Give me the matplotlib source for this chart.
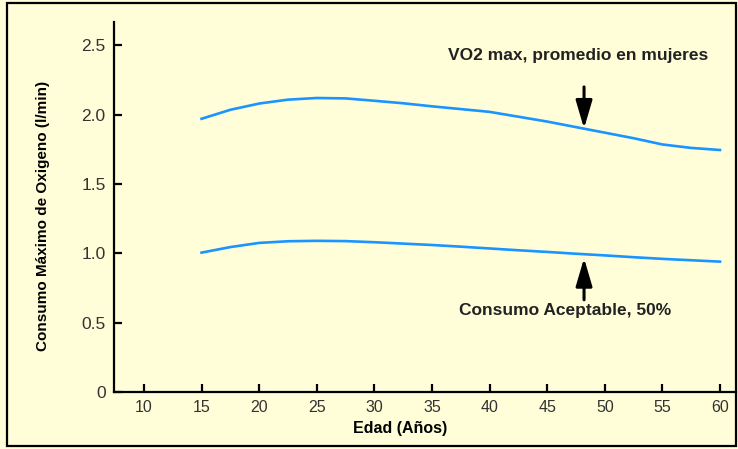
import matplotlib
matplotlib.use('Agg')
import matplotlib.pyplot as plt
from matplotlib.patches import Rectangle

# Data
edad = [15, 17.5, 20, 22.5, 25, 27.5, 30, 32.5, 35, 37.5, 40,
        42.5, 45, 47.5, 50, 52.5, 55, 57.5, 60]
vo2_max = [1.97, 2.035, 2.08, 2.108, 2.12, 2.117, 2.10, 2.082, 2.06, 2.04, 2.02,
           1.985, 1.95, 1.91, 1.87, 1.83, 1.785, 1.76, 1.745]
aceptable = [1.005, 1.045, 1.075, 1.087, 1.09, 1.088, 1.08, 1.07, 1.06, 1.048, 1.035,
             1.022, 1.01, 0.997, 0.985, 0.972, 0.96, 0.95, 0.94]

x_ticks = [10, 15, 20, 25, 30, 35, 40, 45, 50, 55, 60]
y_ticks = [0, 0.5, 1.0, 1.5, 2.0, 2.5]
y_ticklabels = ['0', '0.5', '1.0', '1.5', '2.0', '2.5']

bg = '#fffed8'
line_color = '#1a94ff'

plt.rcParams['font.family'] = ['Liberation Sans', 'DejaVu Sans']

fig = plt.figure(figsize=(7.38, 4.49), dpi=100, facecolor=bg)
ax = fig.add_axes([114 / 738, 57 / 449, (736 - 114) / 738, (392 - 22) / 449])
ax.set_facecolor(bg)

ax.plot(edad, vo2_max, color=line_color, lw=1.9)
ax.plot(edad, aceptable, color=line_color, lw=1.9)

ax.set_xlim(7.40, 61.39)
ax.set_ylim(0, 2.668)

for s in ['top', 'right']:
    ax.spines[s].set_visible(False)
for s in ['left', 'bottom']:
    ax.spines[s].set_linewidth(1.6)
    ax.spines[s].set_color('black')

ax.set_xticks(x_ticks)
ax.set_yticks(y_ticks)
ax.set_yticklabels(y_ticklabels)
ax.tick_params(direction='in', length=6, width=1.6, labelcolor='#333333', pad=6)
ax.tick_params(axis='x', labelsize=11.5)
ax.tick_params(axis='y', labelsize=12.5)

ax.set_xlabel('Edad (Años)', fontsize=11.5, fontweight='bold')
ax.xaxis.set_label_coords((400 - 114) / 622, -(421 - 392) / 370)
ax.set_ylabel('Consumo Máximo de Oxigeno (l/min)', fontsize=11, fontweight='bold')
ax.yaxis.set_label_coords(-(114 - 50) / 622, (392 - 216) / 370)

# Annotations with arrows
arrow = dict(arrowstyle='-|>,head_width=0.5,head_length=1.7', color='black', lw=2.2,
             shrinkA=0, shrinkB=0)
ax.annotate('', xy=(48.2, 1.90), xytext=(48.2, 2.20), arrowprops=arrow)
ax.annotate('', xy=(48.2, 0.965), xytext=(48.2, 0.665), arrowprops=arrow)
ax.text(47.7, 2.43, 'VO2 max, promedio en mujeres', ha='center', va='center',
        fontsize=12.5, fontweight='bold', color='#222222')
ax.text(46.6, 0.59, 'Consumo Aceptable, 50%', ha='center', va='center',
        fontsize=12.5, fontweight='bold', color='#222222')

# Outer frame
fig.patches.append(Rectangle((7 / 738, 3 / 449), 729 / 738, 443 / 449,
                             transform=fig.transFigure, fill=False,
                             edgecolor='black', lw=1.6))

fig.savefig('out.png', dpi=100, facecolor=bg)
